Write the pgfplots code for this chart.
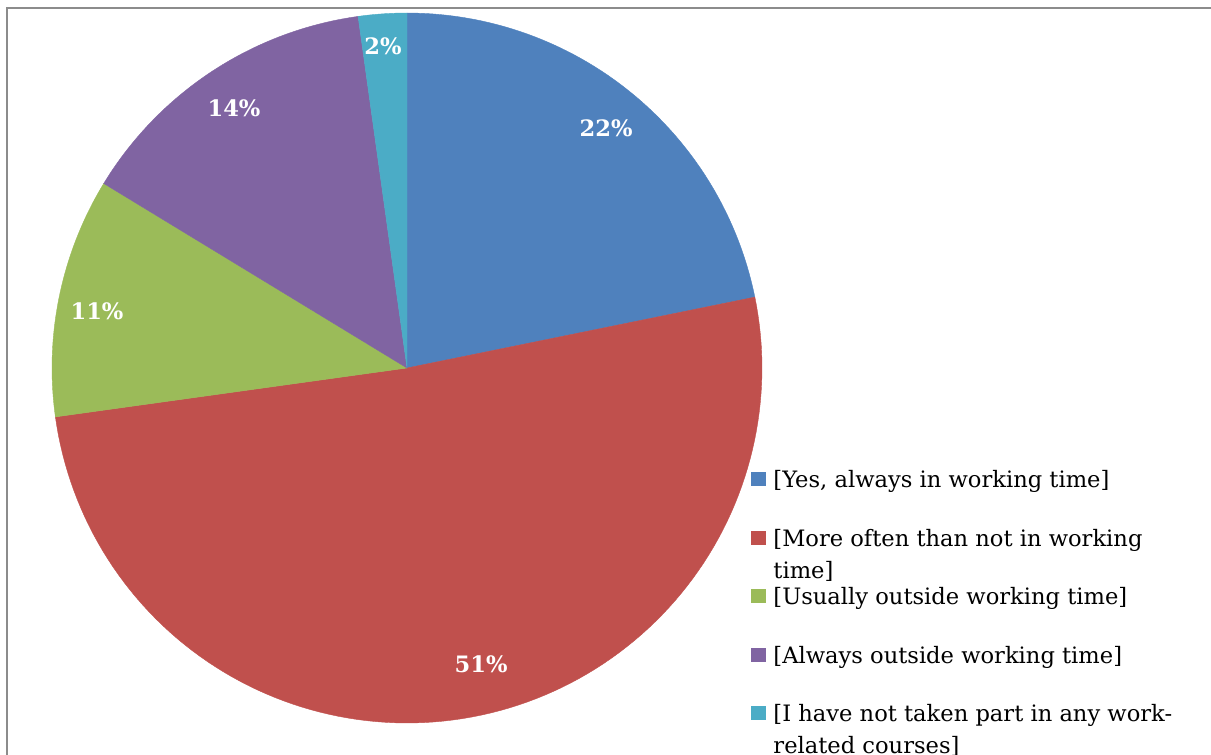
\documentclass[border=0pt]{standalone}
\usepackage{fontspec}
\setmainfont{DejaVu Serif}
\usepackage{pgfplots}
\usepackage{pgfplotstable}
\pgfplotsset{compat=1.18}
\definecolor{cblue}{HTML}{4F81BD}
\definecolor{cred}{HTML}{C0504D}
\definecolor{cgreen}{HTML}{9BBB59}
\definecolor{cpurple}{HTML}{8064A2}
\definecolor{ccyan}{HTML}{4BACC6}
\definecolor{cframe}{HTML}{8C8C8C}

% shares of the answers (per cent), clockwise from 12 o'clock
\pgfplotstableread{
share
21.8
51.0
10.9
14.1
2.2
}\piedata

\pgfplotstablegetelem{0}{share}\of\piedata \let\sA\pgfplotsretval
\pgfplotstablegetelem{1}{share}\of\piedata \let\sB\pgfplotsretval
\pgfplotstablegetelem{2}{share}\of\piedata \let\sC\pgfplotsretval
\pgfplotstablegetelem{3}{share}\of\piedata \let\sD\pgfplotsretval
\pgfplotstablegetelem{4}{share}\of\piedata \let\sE\pgfplotsretval
\pgfmathsetmacro\aA{90}
\pgfmathsetmacro\aB{90-3.6*\sA}
\pgfmathsetmacro\aC{\aB-3.6*\sB}
\pgfmathsetmacro\aD{\aC-3.6*\sC}
\pgfmathsetmacro\aE{\aD-3.6*\sD}
\pgfmathsetmacro\aF{\aE-3.6*\sE}

\newcommand\twolines[2]{\smash{\begin{tabular}[t]{@{}l@{}}#1\\#2\end{tabular}}}

\begin{document}
\begin{tikzpicture}
\begin{axis}[
  name=ax,
  width=605.5pt, height=377.5pt, scale only axis,
  xmin=0, xmax=1211, ymin=0, ymax=755,
  hide axis, clip=false,
  legend cell align=left,
  legend image code/.code={\fill[#1] (0pt,-3.25pt) rectangle (7pt,3.25pt);},
  legend style={at={(0.6202,0.3775)}, anchor=north west, draw=none, fill=none,
    inner sep=0pt, outer sep=0pt, row sep=20.25pt, column sep=4pt,
    font=\fontsize{11.3}{16}\selectfont,
    nodes={inner sep=0pt, text height=9pt, text depth=0pt}},
]
\path (axis cs:0,0) rectangle (axis cs:1211,755);
\draw[cframe, line width=1pt] (axis cs:7,0) -- (axis cs:7,747) -- (axis cs:1211,747);

\addplot[fill=cblue, draw=cblue, line width=0.2pt, domain=\aB:\aA, samples=60, variable=\t]
  ({407+355*cos(\t)},{387+355*sin(\t)}) -- (axis cs:407,387) -- cycle;
\addlegendentry{[Yes, always in working time]}
\addplot[fill=cred, draw=cred, line width=0.2pt, domain=\aC:\aB, samples=120, variable=\t]
  ({407+355*cos(\t)},{387+355*sin(\t)}) -- (axis cs:407,387) -- cycle;
\addlegendentry{\twolines{[More often than not in working}{time]}}
\addplot[fill=cgreen, draw=cgreen, line width=0.2pt, domain=\aD:\aC, samples=40, variable=\t]
  ({407+355*cos(\t)},{387+355*sin(\t)}) -- (axis cs:407,387) -- cycle;
\addlegendentry{[Usually outside working time]}
\addplot[fill=cpurple, draw=cpurple, line width=0.2pt, domain=\aE:\aD, samples=40, variable=\t]
  ({407+355*cos(\t)},{387+355*sin(\t)}) -- (axis cs:407,387) -- cycle;
\addlegendentry{[Always outside working time]}
\addplot[fill=ccyan, draw=ccyan, line width=0.2pt, domain=\aF:\aE, samples=10, variable=\t]
  ({407+355*cos(\t)},{387+355*sin(\t)}) -- (axis cs:407,387) -- cycle;
\addlegendentry{\twolines{[I have not taken part in any work-}{related courses]}}

\begin{scope}[every node/.style={font=\bfseries\fontsize{11.3}{14}\selectfont, text=white}]
\node at (axis cs:606,627) {22\%};
\node at (axis cs:481,91) {51\%};
\node at (axis cs:97,444) {11\%};
\node at (axis cs:234,647) {14\%};
\node at (axis cs:383,709) {2\%};
\end{scope}
\end{axis}
\pgfresetboundingbox
\path (ax.south west) rectangle (ax.north east);
\end{tikzpicture}
\end{document}
